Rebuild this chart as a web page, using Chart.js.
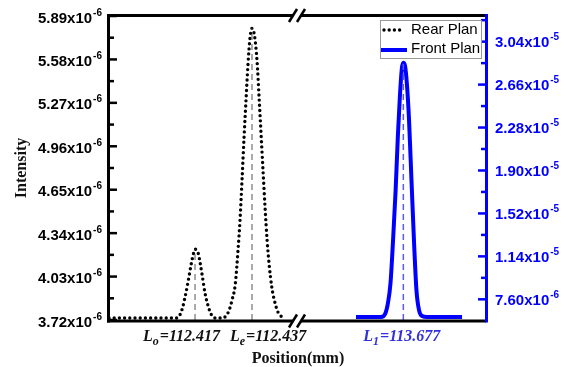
<!DOCTYPE html>
<html>
<head>
<meta charset="utf-8">
<script src="https://cdn.jsdelivr.net/npm/chart.js@4.4.0/dist/chart.umd.min.js"></script>
<style>
  html, body { margin: 0; padding: 0; background: #fff; }
  #wrap { width: 568px; height: 367px; }
</style>
</head>
<body>
<div id="wrap"><canvas id="c"></canvas></div>
<script>
// positions in mm, intensities in units of 1e-6
const rearX = [112.3868, 112.3977, 112.4100, 112.4112, 112.4125, 112.4135, 112.4146, 112.4156, 112.4165, 112.4170,
  112.4181, 112.4188, 112.4195, 112.4205, 112.4216, 112.4226, 112.4240, 112.4255, 112.4265, 112.4279,
  112.4290, 112.4300, 112.4311, 112.4321, 112.4328, 112.4335, 112.4342, 112.4349, 112.4356, 112.4363,
  112.4370, 112.4379, 112.4388, 112.4395, 112.4402, 112.4409, 112.4416, 112.4423, 112.4430, 112.4440,
  112.4451, 112.4461, 112.4476, 112.4486];
const rearY = [3.734, 3.734, 3.734, 3.741, 3.799, 3.884, 3.998, 4.113, 4.198, 4.225,
  4.198, 4.127, 4.041, 3.913, 3.820, 3.763, 3.734, 3.734, 3.734, 3.749,
  3.791, 3.863, 3.970, 4.220, 4.434, 4.719, 5.019, 5.290, 5.547, 5.733,
  5.802, 5.747, 5.562, 5.305, 5.041, 4.776, 4.519, 4.291, 4.120, 3.948,
  3.841, 3.777, 3.741, 3.734];

const frontX = [113.6604, 113.6692, 113.6706, 113.6716, 113.6725, 113.6734, 113.6743, 113.6751, 113.6758, 113.6765,
  113.6770, 113.6776, 113.6783, 113.6790, 113.6799, 113.6808, 113.6816, 113.6825, 113.6836, 113.6853, 113.6976];
const frontY = [6.035, 6.035, 6.30, 7.27, 9.04, 12.85, 17.27, 22.14, 25.59, 28.07,
  28.54, 28.25, 26.48, 23.47, 17.89, 12.41, 8.42, 6.65, 6.12, 6.035, 6.035];

// peak centres: L_o, L_e (rear) and L_1 (front)
const peakX = [112.417, 112.437, 113.677];
const peakY = [4.225, 5.802, 28.54];
const peakSub = ['o', 'e', '1'];
const peakText = ['=112.417', '=112.437', '=113.677'];

const rearRange = [112.3868, 112.4528];
const frontRange = [113.6397, 113.7060];
const leftRange = [3.72, 5.89];
const rightRange = [5.77, 32.67];

const leftTicks = [3.72, 4.03, 4.34, 4.65, 4.96, 5.27, 5.58, 5.89];
const leftTickText = ['3.72', '4.03', '4.34', '4.65', '4.96', '5.27', '5.58', '5.89'];
const leftTickExp = ['-6', '-6', '-6', '-6', '-6', '-6', '-6', '-6'];
const rightTicks = [7.6, 11.4, 15.2, 19.0, 22.8, 26.6, 30.4];
const rightTickText = ['7.60', '1.14', '1.52', '1.90', '2.28', '2.66', '3.04'];
const rightTickExp = ['-6', '-5', '-5', '-5', '-5', '-5', '-5'];

const BREAK_X = 297;
const BLUE = '#0000ff';
const SANS = '"Liberation Sans", Arial, sans-serif';
const SERIF = '"Liberation Serif", "Times New Roman", serif';

function pts(xs, ys) { return xs.map((x, i) => ({ x, y: ys[i] })); }

function supLabel(c, x, y, mant, exp, align, color) {
  const big = 'bold 15px ' + SANS, small = 'bold 10px ' + SANS;
  c.font = big; const w1 = c.measureText(mant).width;
  c.font = small; const w2 = c.measureText(exp).width;
  const x0 = align === 'right' ? x - w1 - w2 - 1 : x;
  c.fillStyle = color; c.textAlign = 'left'; c.textBaseline = 'alphabetic';
  c.font = big; c.fillText(mant, x0, y + 5.5);
  c.font = small; c.fillText(exp, x0 + w1 + 1, y - 1.5);
}

function subLabel(c, x, y, sub, rest, color) {
  const big = 'italic bold 16px ' + SERIF, small = 'italic bold 12px ' + SERIF;
  c.fillStyle = color; c.textAlign = 'left'; c.textBaseline = 'alphabetic';
  c.font = big; c.fillText('L', x, y);
  let w = c.measureText('L').width;
  c.font = small; c.fillText(sub, x + w, y + 4);
  w += c.measureText(sub).width + 1;
  c.font = big; c.fillText(rest, x + w, y);
}

function breakMark(c, x, y) {
  c.save();
  c.lineCap = 'butt';
  c.strokeStyle = '#fff'; c.lineWidth = 6;
  c.beginPath(); c.moveTo(x - 3, y + 5); c.lineTo(x + 3, y - 5); c.stroke();
  c.strokeStyle = '#000'; c.lineWidth = 2.5;
  [-4, 4].forEach(k => {
    c.beginPath(); c.moveTo(x + k - 4, y + 6.5); c.lineTo(x + k + 4, y - 6.5); c.stroke();
  });
  c.restore();
}

const brokenAxis = {
  id: 'brokenAxis',
  afterLayout(ch) {
    const ca = ch.chartArea, xr = ch.scales.xr, xf = ch.scales.xf;
    xr.left = ca.left; xr.right = BREAK_X; xr.width = BREAK_X - ca.left; xr.configure();
    xf.left = BREAK_X; xf.right = ca.right; xf.width = ca.right - BREAK_X; xf.configure();
  },
  afterDraw(ch) {
    const c = ch.ctx, ca = ch.chartArea;
    const yl = ch.scales.yl, yr = ch.scales.yr, xr = ch.scales.xr, xf = ch.scales.xf;
    c.save();
    c.lineCap = 'butt';

    // frame
    c.strokeStyle = '#000'; c.lineWidth = 3;
    c.beginPath(); c.moveTo(ca.left - 0.5, ca.top - 2); c.lineTo(ca.left - 0.5, ca.bottom + 2.5); c.stroke();
    c.beginPath(); c.moveTo(ca.left - 2, ca.top - 0.5); c.lineTo(ca.right, ca.top - 0.5); c.stroke();
    c.beginPath(); c.moveTo(ca.left - 2, ca.bottom + 1); c.lineTo(ca.right, ca.bottom + 1); c.stroke();
    c.strokeStyle = BLUE;
    c.beginPath(); c.moveTo(ca.right + 0.5, ca.top - 2); c.lineTo(ca.right + 0.5, ca.bottom + 2.5); c.stroke();
    breakMark(c, BREAK_X, ca.top - 0.5);
    breakMark(c, BREAK_X, ca.bottom + 1);

    // left ticks
    c.lineWidth = 2.5; c.strokeStyle = '#000';
    leftTicks.forEach((v, i) => {
      const y = yl.getPixelForValue(v);
      c.beginPath(); c.moveTo(ca.left, y); c.lineTo(ca.left + 8, y); c.stroke();
      if (i < leftTicks.length - 1) {
        const ym = yl.getPixelForValue((v + leftTicks[i + 1]) / 2);
        c.beginPath(); c.moveTo(ca.left, ym); c.lineTo(ca.left + 5, ym); c.stroke();
      }
      supLabel(c, 102, y + 1, leftTickText[i] + 'x10', leftTickExp[i], 'right', '#000');
    });

    // right ticks
    c.strokeStyle = BLUE;
    rightTicks.forEach((v, i) => {
      const y = yr.getPixelForValue(v);
      c.beginPath(); c.moveTo(ca.right, y); c.lineTo(ca.right - 8, y); c.stroke();
      const step = i < rightTicks.length - 1 ? rightTicks[i + 1] - v : v - rightTicks[i - 1];
      const ym = yr.getPixelForValue(v + step / 2);
      if (ym > ca.top + 2) {
        c.beginPath(); c.moveTo(ca.right, ym); c.lineTo(ca.right - 5, ym); c.stroke();
      }
      supLabel(c, 495, y, rightTickText[i] + 'x10', rightTickExp[i], 'left', BLUE);
    });

    // peak position labels
    const offs = [-52, -22, -40];
    peakX.forEach((p, i) => {
      const sc = i < 2 ? xr : xf;
      subLabel(c, sc.getPixelForValue(p) + offs[i], ca.bottom + 21, peakSub[i], peakText[i], i < 2 ? '#111' : '#3030dd');
    });

    // axis titles
    c.fillStyle = '#111';
    c.font = 'bold 16px ' + SERIF;
    c.textAlign = 'center'; c.textBaseline = 'alphabetic';
    c.fillText('Position(mm)', 298, ca.bottom + 43);
    c.save();
    c.translate(26, 168); c.rotate(-Math.PI / 2);
    c.fillText('Intensity', 0, 0);
    c.restore();

    // legend
    const lx = 380.5, ly = 20.5, lw = 101, lh = 38;
    c.fillStyle = '#fff'; c.fillRect(lx, ly, lw, lh);
    c.strokeStyle = '#999'; c.lineWidth = 1; c.strokeRect(lx, ly, lw, lh);
    const ds = ch.data.datasets;
    c.lineCap = 'round'; c.setLineDash(ds[0].borderDash);
    c.strokeStyle = ds[0].borderColor; c.lineWidth = ds[0].borderWidth;
    c.beginPath(); c.moveTo(384, 30); c.lineTo(404, 30); c.stroke();
    c.setLineDash([]); c.lineCap = 'butt';
    c.strokeStyle = ds[1].borderColor; c.lineWidth = 4;
    c.beginPath(); c.moveTo(381, 50); c.lineTo(407, 50); c.stroke();
    c.fillStyle = '#000'; c.font = '15px ' + SANS; c.textAlign = 'left'; c.textBaseline = 'middle';
    c.fillText(ds[0].label, 411, 30);
    c.fillText(ds[1].label, 411, 49);

    c.restore();
  }
};

const markerLine = (i, xAxis, yAxis, base, color, width) => ({
  label: 'L' + peakSub[i], xAxisID: xAxis, yAxisID: yAxis,
  data: [{ x: peakX[i], y: base }, { x: peakX[i], y: peakY[i] }],
  borderColor: color, borderWidth: width, borderDash: [6, 4], pointRadius: 0, fill: false
});

new Chart(document.getElementById('c'), {
  type: 'line',
  plugins: [brokenAxis],
  data: {
    datasets: [
      {
        label: 'Rear Plan', xAxisID: 'xr', yAxisID: 'yl',
        data: pts(rearX, rearY),
        borderColor: '#000', borderWidth: 3.4, borderDash: [0, 5.2], borderCapStyle: 'round',
        pointRadius: 0, cubicInterpolationMode: 'monotone', fill: false, order: 1
      },
      {
        label: 'Front Plan', xAxisID: 'xf', yAxisID: 'yr',
        data: pts(frontX, frontY),
        borderColor: BLUE, borderWidth: 4, borderJoinStyle: 'round',
        pointRadius: 0, cubicInterpolationMode: 'monotone', fill: false, order: 1
      },
      markerLine(0, 'xr', 'yl', leftRange[0], '#555', 1),
      markerLine(1, 'xr', 'yl', leftRange[0], '#555', 1),
      markerLine(2, 'xf', 'yr', rightRange[0], '#5a5aff', 1.5)
    ]
  },
  options: {
    responsive: true, maintainAspectRatio: false, animation: false,
    layout: { padding: { left: 109, right: 82, top: 16, bottom: 47 } },
    scales: {
      xr: { type: 'linear', display: false, min: rearRange[0], max: rearRange[1] },
      xf: { type: 'linear', display: false, min: frontRange[0], max: frontRange[1] },
      yl: { type: 'linear', display: false, min: leftRange[0], max: leftRange[1] },
      yr: { type: 'linear', display: false, min: rightRange[0], max: rightRange[1] }
    },
    plugins: { legend: { display: false }, tooltip: { enabled: false } }
  }
});
</script>
</body>
</html>
